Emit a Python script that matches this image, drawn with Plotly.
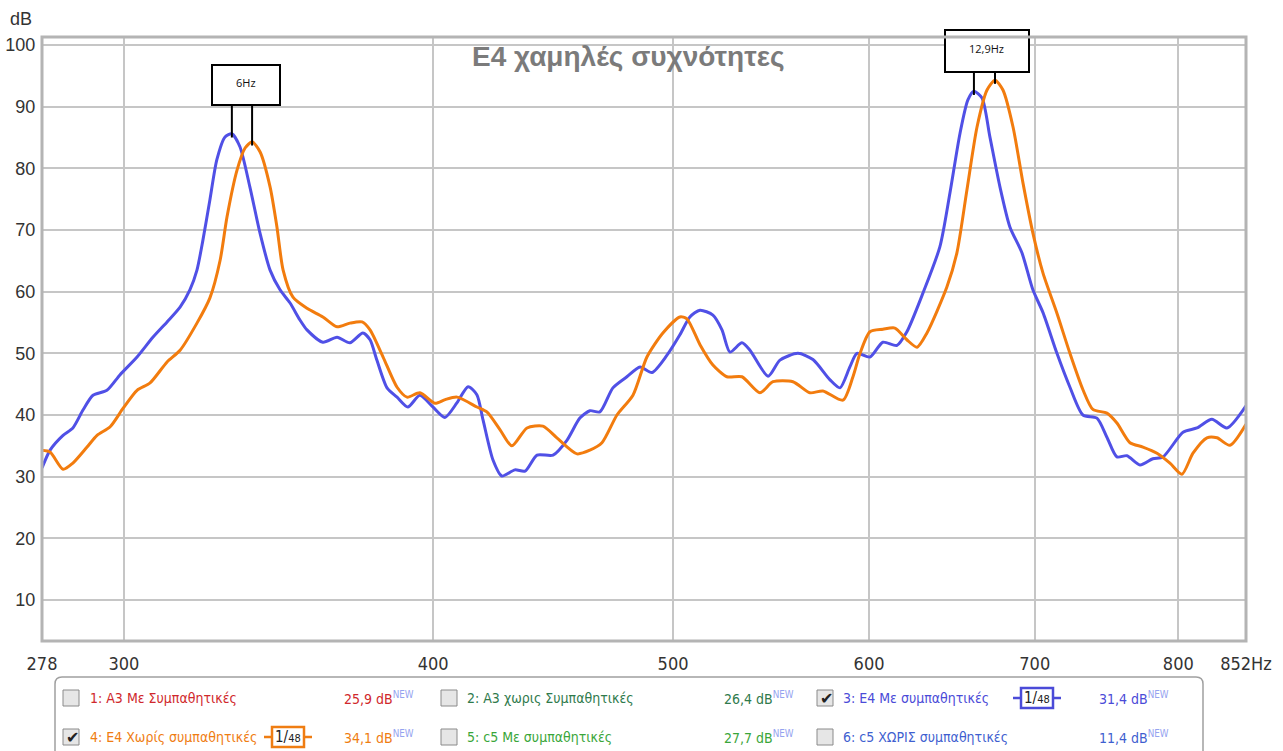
import math
import plotly.graph_objects as go

# Frequency response, E4 with sympathetic strings (blue)
freq_e4_me = [278.0, 280.1, 283.5, 286.1, 288.8, 291.5, 295.3, 298.9, 303.7, 308.2,
              312.3, 316.1, 319.0, 321.1, 322.9, 325.0, 327.1, 329.6, 331.7, 334.2,
              337.3, 340.5, 343.7, 346.9, 350.1, 353.4, 355.7, 361.0, 365.8, 370.2,
              374.7, 377.2, 379.6, 383.2, 386.8, 390.7, 395.1, 399.9, 404.4, 409.0,
              413.2, 416.6, 419.0, 422.9, 426.4, 431.6, 435.7, 440.6, 447.2, 453.0,
              458.5, 462.8, 467.1, 472.8, 479.0, 484.9, 490.3, 497.2, 503.2, 507.9,
              512.7, 518.9, 523.3, 527.2, 533.1, 537.1, 546.2, 552.3, 561.6, 569.5,
              578.6, 584.0, 589.4, 593.3, 600.5, 607.8, 615.8, 621.5, 630.9, 640.9,
              646.9, 653.0, 657.8, 661.5, 666.5, 671.4, 677.7, 684.0, 691.7, 698.8,
              705.4, 714.6, 723.3, 732.1, 741.7, 748.6, 755.6, 762.7, 772.0, 781.3,
              788.7, 803.5, 814.0, 825.4, 837.0, 852.0]
db_e4_me = [31.4, 34.3, 36.7, 37.9, 40.8, 43.2, 44.0, 46.5, 49.4, 52.6,
            55.1, 57.5, 60.3, 63.5, 68.4, 74.9, 81.4, 85.1, 85.6, 83.5,
            77.0, 69.5, 63.5, 60.3, 58.2, 55.4, 53.8, 51.8, 52.6, 51.7,
            53.3, 52.2, 48.9, 44.4, 42.9, 41.3, 43.2, 41.3, 39.6, 42.0,
            44.6, 43.3, 39.2, 32.7, 30.1, 31.1, 30.9, 33.5, 33.5, 35.9,
            39.5, 40.7, 40.5, 44.4, 46.2, 47.8, 46.9, 49.7, 53.0, 55.9,
            57.0, 56.2, 53.8, 50.2, 51.7, 50.5, 46.3, 48.9, 50.0, 49.0,
            45.7, 44.4, 47.8, 50.0, 49.4, 51.8, 51.3, 53.5, 59.8, 67.3,
            76.0, 85.7, 91.1, 92.5, 91.4, 85.1, 77.0, 70.5, 66.3, 60.3,
            56.6, 50.0, 44.5, 40.0, 39.5, 36.4, 33.2, 33.4, 31.9, 32.9,
            33.2, 37.2, 37.9, 39.3, 37.9, 41.5]

# Frequency response, E4 without sympathetic strings (orange)
freq_e4_xoris = [278.0, 280.1, 283.5, 286.1, 289.9, 292.6, 296.2, 299.8, 303.7, 307.4,
                 312.3, 316.1, 321.1, 325.0, 328.1, 330.2, 333.3, 335.8, 338.0, 340.5,
                 343.7, 345.9, 347.9, 351.1, 355.7, 361.0, 365.8, 370.2, 374.4, 377.2,
                 381.8, 386.8, 390.4, 395.1, 400.7, 404.5, 409.0, 416.6, 420.5, 425.7,
                 430.4, 436.5, 443.0, 448.8, 457.3, 462.8, 468.0, 474.6, 481.7, 488.0,
                 495.3, 503.2, 506.5, 512.7, 518.9, 525.7, 533.1, 542.1, 548.7, 559.0,
                 567.9, 574.8, 585.6, 591.1, 595.0, 600.5, 607.8, 614.6, 621.5, 627.4,
                 633.2, 645.1, 651.1, 657.2, 663.4, 669.6, 674.6, 679.6, 686.0, 692.4,
                 698.8, 705.4, 714.6, 723.3, 732.1, 738.9, 748.6, 755.6, 764.8, 774.1,
                 784.3, 793.8, 802.7, 811.0, 821.6, 829.3, 839.4, 852.0]
db_e4_xoris = [34.3, 34.0, 31.2, 32.2, 34.8, 36.7, 38.1, 41.1, 44.0, 45.2,
               48.6, 50.5, 54.9, 59.0, 65.1, 72.1, 79.7, 83.3, 84.3, 82.7,
               77.0, 70.5, 63.5, 59.1, 57.3, 55.9, 54.3, 54.9, 55.1, 53.8,
               49.4, 44.5, 42.9, 43.6, 41.9, 42.5, 42.9, 41.3, 40.5, 37.6,
               35.0, 37.9, 38.2, 36.3, 33.7, 34.3, 35.5, 40.0, 43.2, 49.4,
               53.3, 55.9, 55.6, 51.4, 48.1, 46.2, 46.2, 43.6, 45.4, 45.4,
               43.6, 43.9, 42.4, 46.2, 50.0, 53.5, 53.9, 54.1, 52.2, 51.0,
               53.3, 60.8, 66.3, 76.5, 86.7, 92.7, 94.3, 92.7, 86.7, 77.6,
               69.5, 63.0, 56.5, 50.0, 44.1, 40.9, 40.3, 38.7, 35.5, 34.8,
               33.8, 32.2, 30.4, 33.8, 36.3, 36.3, 35.1, 38.5]

x_tick_vals = [278, 300, 400, 500, 600, 700, 800, 852]
x_tick_text = ["278", "300", "400", "500", "600", "700", "800", "852Hz"]
y_tick_vals = [10, 20, 30, 40, 50, 60, 70, 80, 90, 100]

legend_names = ["1: A3 Με Συμπαθητικές", "2: A3 χωρις Συμπαθητικές",
                "3: E4 Με συμπαθητικές", "4: E4 Χωρίς συμπαθητικές",
                "5: c5 Με συμπαθητικές", "6: c5 ΧΩΡΙΣ συμπαθητικές"]
legend_levels = ["25,9", "26,4", "31,4", "34,1", "27,7", "11,4"]
legend_checked = [False, False, True, True, False, False]
legend_colors = ["#d0282c", "#2f7a4c", "#4b4bd8", "#ef7d12", "#3aa63a", "#3f5fd0"]

peak_labels = ["6Hz", "12,9Hz"]
peak_bands = [(300, 400), (600, 750)]

BLUE = "#5050e6"
ORANGE = "#f27c0e"
NARROW = "Liberation Sans Narrow, DejaVu Sans Condensed, Arial Narrow, sans-serif"
SANS = "Liberation Sans, Arial, sans-serif"

W, H = 1283, 751
PL, PR, PT, PB = 42, 1246, 37, 641
Y_LO, Y_HI = 3.35, 101.3


def px(x):
    return (x - PL) / (PR - PL)


def py(y):
    return (PB - y) / (PB - PT)


def y_to_db(y):
    return Y_LO + (PB - y) / (PB - PT) * (Y_HI - Y_LO)


def peak(freqs, vals, lo, hi):
    pts = [(v, f) for f, v in zip(freqs, vals) if lo <= f <= hi]
    v, f = max(pts)
    return f, v


def label(x, y, text, size, color, family=NARROW, xanchor="center"):
    return dict(x=px(x), y=py(y), xref="paper", yref="paper", text=text,
                showarrow=False, xanchor=xanchor, yanchor="middle",
                font=dict(family=family, size=size, color=color))


fig = go.Figure()
fig.add_trace(go.Scatter(x=freq_e4_me, y=db_e4_me, mode="lines",
                         line=dict(color=BLUE, width=3, shape="spline", smoothing=0.7),
                         hoverinfo="skip", showlegend=False))
fig.add_trace(go.Scatter(x=freq_e4_xoris, y=db_e4_xoris, mode="lines",
                         line=dict(color=ORANGE, width=3, shape="spline", smoothing=0.7),
                         hoverinfo="skip", showlegend=False))

shapes = []
annotations = []

# Peak difference markers: box with label and two leaders down to the peaks
box_px = [(212, 280, 65, 105), (945, 1029, 30, 72)]
for text, (lo, hi), (bx0, bx1, by0, by1) in zip(peak_labels, peak_bands, box_px):
    f1, v1 = peak(freq_e4_me, db_e4_me, lo, hi)
    f2, v2 = peak(freq_e4_xoris, db_e4_xoris, lo, hi)
    top = y_to_db(by1)
    for f, v in ((f1, v1), (f2, v2)):
        fig.add_trace(go.Scatter(x=[f, f], y=[v - 0.6, top], mode="lines",
                                 line=dict(color="black", width=2),
                                 hoverinfo="skip", showlegend=False, cliponaxis=False))
    shapes.append(dict(type="rect", xref="paper", yref="paper",
                       x0=px(bx0), x1=px(bx1), y0=py(by1), y1=py(by0),
                       line=dict(color="black", width=2), fillcolor="white"))
    annotations.append(label((bx0 + bx1) / 2, (by0 + by1) / 2 - 2, text, 11, "#111",
                             family="Open Sans, sans-serif"))

# Plot frame
shapes.append(dict(type="rect", xref="paper", yref="paper", x0=0, x1=1, y0=0, y1=1,
                   line=dict(color="#b4b4b4", width=3), layer="above"))

# Title and axis unit
annotations.append(label(628, 57, "<b>E4 χαμηλές συχνότητες</b>", 28, "#7b7b7b", SANS))
annotations.append(label(21, 19, "dB", 18, "#333", SANS))

# Legend panel with rounded top corners
lx0, lx1, ly0, ly1, r = 55, 1203, 677, 760, 7
path = (f"M {px(lx0)},{py(ly1)} L {px(lx0)},{py(ly0 + r)} "
        f"Q {px(lx0)},{py(ly0)} {px(lx0 + r)},{py(ly0)} "
        f"L {px(lx1 - r)},{py(ly0)} Q {px(lx1)},{py(ly0)} {px(lx1)},{py(ly0 + r)} "
        f"L {px(lx1)},{py(ly1)}")
shapes.append(dict(type="path", xref="paper", yref="paper", path=path,
                   line=dict(color="#a0a0a0", width=1.5)))

col_box = [71, 449, 825]
col_text = [88, 465, 841]
col_val_right = [416, 796, 1171]
row_y = [698, 737]
badge_cx = {2: 1037, 3: 288}

for i, (name, lvl, chk, col) in enumerate(zip(legend_names, legend_levels,
                                              legend_checked, legend_colors)):
    row, c = divmod(i, 3)
    yc = row_y[row]
    cx = col_box[c]
    shapes.append(dict(type="rect", xref="paper", yref="paper",
                       x0=px(cx - 8), x1=px(cx + 8), y0=py(yc + 8), y1=py(yc - 8),
                       line=dict(color="#8a8a8a", width=1), fillcolor="#e6e6e6"))
    if chk:
        annotations.append(label(cx + 1, yc, "✔", 16, "#222", "DejaVu Sans"))
    annotations.append(label(col_text[c], yc, name, 14, col, xanchor="left"))
    annotations.append(label(col_val_right[c], yc,
                             f"{lvl} dB<sup><span style='color:#95a3f0'>NEW</span></sup>",
                             14, col, xanchor="right"))
    if i in badge_cx:
        bc = badge_cx[i]
        shapes.append(dict(type="line", xref="paper", yref="paper",
                           x0=px(bc - 24), x1=px(bc + 24), y0=py(yc), y1=py(yc),
                           line=dict(color=col, width=2.5)))
        shapes.append(dict(type="rect", xref="paper", yref="paper",
                           x0=px(bc - 16), x1=px(bc + 16), y0=py(yc + 10), y1=py(yc - 10),
                           line=dict(color=col, width=2.5), fillcolor="white"))
        annotations.append(label(bc, yc, "1/<span style='font-size:11px'>48</span>",
                                 15, "#222"))

fig.update_layout(
    width=W, height=H,
    margin=dict(l=PL, r=W - PR, t=PT, b=H - PB, autoexpand=False),
    paper_bgcolor="white", plot_bgcolor="white",
    shapes=shapes, annotations=annotations,
    showlegend=False,
    xaxis=dict(type="log", range=[math.log10(278), math.log10(852)],
               tickvals=x_tick_vals, ticktext=x_tick_text, automargin=False,
               showgrid=True, gridcolor="#c6c6c6", gridwidth=1.5,
               zeroline=False, showline=False,
               ticks="outside", ticklen=6, tickcolor="rgba(0,0,0,0)",
               tickfont=dict(family=NARROW, size=18, color="#333")),
    yaxis=dict(range=[Y_LO, Y_HI], tickvals=y_tick_vals, automargin=False,
               showgrid=True, gridcolor="#c6c6c6", gridwidth=1.5,
               zeroline=False, showline=False,
               ticks="outside", ticklen=2, tickcolor="rgba(0,0,0,0)",
               tickfont=dict(family=SANS, size=18, color="#333")),
)

fig.write_html("out.html")
